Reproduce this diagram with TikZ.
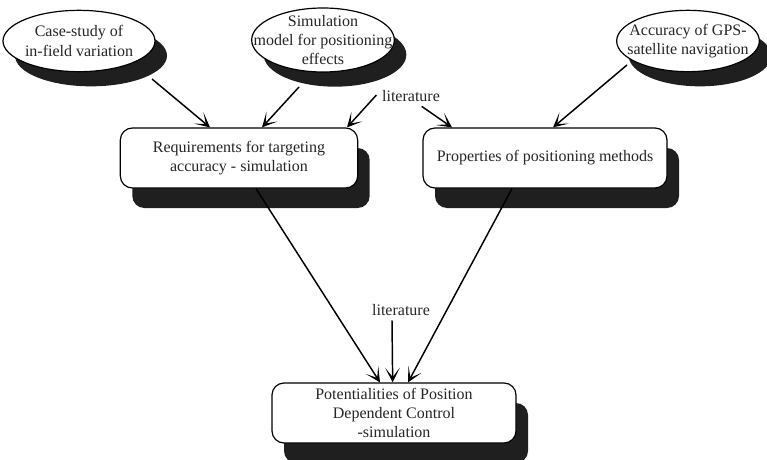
\documentclass[tikz,border=0pt]{standalone}
\usepackage{fontspec}
\setmainfont{Liberation Serif}
\usetikzlibrary{shapes.geometric, shadows, arrows.meta}

\begin{document}
\begin{tikzpicture}[x=0.75pt, y=-0.75pt,
  every node/.style={font=\fontsize{12}{14.5}\selectfont, text=black!85},
  oval/.style={ellipse, draw, line width=0.9pt, fill=white, inner sep=0pt,
    drop shadow={shadow xshift=9pt, shadow yshift=-11pt, opacity=1, fill=black!88}},
  stage/.style={rectangle, rounded corners=9pt, draw, line width=0.9pt, fill=white,
    align=center, inner sep=0pt, minimum height=45pt,
    drop shadow={shadow xshift=9pt, shadow yshift=-15pt, opacity=1, fill=black!88}},
  arr/.style={-{Stealth[length=11pt, width=11pt, inset=7pt]}, line width=1.1pt}]
\useasboundingbox (0,0) rectangle (767,460);

% Top row: inputs
\node[oval, minimum width=114pt, minimum height=46pt,
  label={[align=center]center:Case-study of\\in-field variation}] (case) at (79,41) {};
\node[oval, minimum width=107pt, minimum height=48pt,
  label={[align=center]center:Simulation\\model for positioning\\effects}] (sim) at (323,40) {};
\node[oval, minimum width=107pt, minimum height=46pt,
  label={[align=center]center:Accuracy of GPS-\\satellite navigation}] (gps) at (688,41) {};
\node (lit1) at (411,96) {literature};

% Middle row
\node[stage, minimum width=178pt] (req) at (239,158) {Requirements for targeting\\accuracy - simulation};
\node[stage, minimum width=183pt] (prop) at (545,158) {Properties of positioning methods};

% Bottom
\node (lit2) at (401,310) {literature};
\node[stage, minimum width=183pt] (pot) at (394,413) {Potentialities of Position\\Dependent Control\\-simulation};

% Arrows into the middle row
\draw[arr] ([shift={(73,38)}]case.center) -- ([xshift=-21.75pt]req.north);
\draw[arr] ([shift={(-24,47)}]sim.center) -- ([xshift=17.25pt]req.north);
\draw[arr] ([shift={(-1,-1)}]lit1.west) -- ([xshift=81pt]req.north);
\draw[arr] ([xshift=8pt]lit1.south) -- ([xshift=-69.75pt]prop.north);
\draw[arr] ([shift={(-61,24)}]gps.center) -- ([xshift=6pt]prop.north);

% Arrows into the bottom box
\draw[arr] ([xshift=12.75pt]req.south) -- ([xshift=-10.5pt]pot.north);
\draw[arr] ([xshift=-6.75pt]lit2.south) -- ([xshift=-1pt]pot.north);
\draw[arr] ([xshift=-24.75pt]prop.south) -- ([xshift=10.5pt]pot.north);
\end{tikzpicture}
\end{document}
